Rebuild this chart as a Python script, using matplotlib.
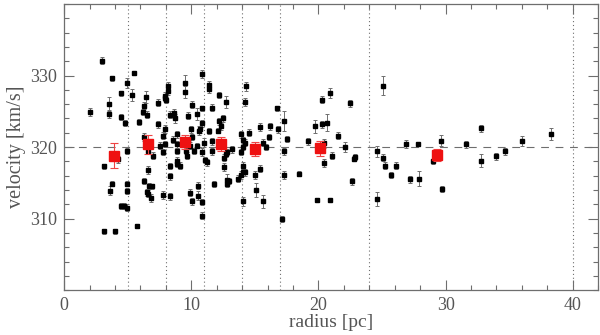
import matplotlib
matplotlib.use("Agg")
import matplotlib.pyplot as plt
from matplotlib.ticker import MultipleLocator

# individual stars: radius [pc], velocity [km/s], velocity error
radius = [
    2.05, 3.0, 3.75, 3.55, 3.5, 4.5, 4.46, 4.8, 4.9, 4.9, 3.1, 3.6, 3.75, 4.46, 4.7,
    4.9, 4.9, 4.9, 3.1, 4.0, 4.2,
    5.3, 5.46, 5.9, 6.25, 6.2, 6.45, 6.55, 6.6, 7.0, 6.25, 7.4, 7.35, 7.5, 7.8, 7.8,
    7.9, 7.95, 5.7, 6.3, 6.5, 6.6, 6.7, 6.9, 6.8, 6.6, 7.75,
    7.9, 7.95, 8.15, 8.15, 8.0, 8.35, 8.6, 8.75, 8.9, 8.55, 8.9, 8.9, 8.9, 9.1, 9.5,
    9.5, 9.7, 10.05, 10.45, 10.0, 10.6, 10.7, 10.05, 9.7, 9.65, 9.6, 9.9, 10.2, 10.45,
    10.85, 8.35, 8.35, 8.35, 8.9, 9.9, 10.05, 10.5, 10.55, 10.85, 10.85, 10.85, 10.85,
    10.85,
    11.0, 11.6, 11.1, 11.2, 11.6, 11.8, 11.4, 11.35, 11.6, 11.35, 12.15, 12.75, 12.15,
    12.5, 12.3, 12.1, 12.55, 12.7, 12.8, 12.6, 12.8, 12.8, 13.0, 13.2, 13.7, 13.9, 13.9,
    13.9,
    14.1, 14.1, 14.25, 14.1, 14.1, 14.25, 14.3, 14.25, 14.5, 14.1, 15.0, 15.1, 15.6,
    15.4, 15.6, 15.9, 16.1, 15.4, 16.2, 16.7, 16.8,
    17.3, 17.3, 17.3, 17.5, 17.1, 18.45, 19.2, 19.7, 20.3, 20.3, 20.7, 20.9, 21.5, 20.4,
    20.4, 21.1, 22.1, 22.5, 22.8, 22.9, 22.6, 19.9, 20.9,
    24.6, 24.6, 25.1, 25.1, 25.2, 25.7, 26.1, 26.9, 27.8, 27.2, 27.9, 29.0, 29.65, 29.7,
    31.6, 32.8, 32.8, 34.0, 34.7, 36.0, 38.3,
]
velocity = [
    324.9, 332.1, 329.6, 326.0, 324.6, 327.5, 324.2, 323.4, 328.9, 319.4, 317.3, 313.9,
    314.9, 311.8, 311.8, 311.5, 314.9, 313.9, 308.2, 308.2, 318.3,
    327.3, 330.4, 323.5, 325.8, 324.9, 327.0, 324.5, 319.5, 318.8, 321.4, 326.2, 323.2,
    320.2, 321.6, 319.3, 320.4, 322.5, 309.0, 315.3, 313.7, 313.5, 314.6, 314.5, 312.9,
    316.8, 313.3,
    327.2, 326.8, 328.5, 327.8, 326.6, 324.5, 324.7, 324.0, 321.8, 321.0, 320.4, 319.5,
    318.1, 317.4, 328.9, 327.7, 324.4, 325.9, 324.6, 322.5, 322.3, 322.5, 321.4, 321.0,
    318.8, 319.5, 320.2, 319.4, 320.2, 319.3, 313.1, 315.9, 317.4, 317.6, 313.6, 312.4,
    314.6, 313.2, 312.3, 310.4, 330.2, 325.4, 323.3,
    320.6, 320.8, 318.2, 317.9, 319.4, 314.8, 328.7, 328.1, 325.5, 322.2, 327.3, 326.3,
    323.6, 324.0, 322.9, 322.3, 318.5, 319.0, 319.3, 317.2, 315.4, 314.9, 315.3, 319.7,
    315.6, 316.1, 319.3, 321.8,
    317.4, 316.5, 316.5, 320.0, 321.0, 320.6, 328.5, 326.3, 322.0, 312.4, 316.1, 314.0,
    312.4, 317.0, 320.6, 320.0, 321.4, 322.8, 322.9, 325.4, 322.5,
    323.6, 319.4, 316.1, 321.1, 309.9, 316.3, 320.8, 322.9, 326.6, 323.2, 323.4, 327.5,
    321.6, 320.5, 317.8, 318.8, 320.0, 326.1, 318.4, 318.6, 315.2, 312.6, 312.6,
    319.4, 312.7, 328.6, 318.5, 317.4, 316.1, 317.4, 320.4, 320.4, 315.5, 315.6, 318.0,
    320.9, 314.1,
    320.4, 322.6, 318.1, 318.7, 319.4, 320.8, 321.8,
]
verr = [
    0.5, 0.5, 0.3, 1.0, 0.6, 0.4, 0.4, 0.4, 0.7, 0.4, 0.3, 0.6, 0.4, 0.4, 0.4,
    0.5, 0.4, 0.4, 0.4, 0.4, 0.5,
    0.8, 0.3, 0.4, 0.5, 0.4, 0.8, 0.5, 0.5, 0.5, 0.5, 0.5, 0.5, 0.5, 0.5, 0.4,
    0.4, 0.6, 0.3, 0.4, 0.5, 0.5, 0.4, 0.4, 0.6, 0.6, 0.5,
    0.5, 0.4, 0.6, 0.5, 0.4, 0.5, 0.6, 0.6, 0.5, 0.5, 0.5, 0.4, 0.5, 0.5, 1.2,
    0.8, 0.5, 0.5, 0.8, 0.5, 0.6, 0.5, 0.4, 0.4, 0.5, 0.4, 0.5, 0.4, 0.4,
    0.5, 0.5, 0.5, 0.4, 0.4, 0.5, 0.5, 0.5, 0.6, 0.4, 0.5, 0.6, 0.3, 0.5,
    0.6, 0.5, 0.4, 0.5, 0.5, 0.4, 0.6, 0.6, 0.5, 0.4, 0.4, 0.8, 0.5,
    0.5, 0.5, 0.4, 0.5, 0.4, 0.4, 0.6, 0.8, 0.5, 0.4, 0.5, 0.5, 0.5, 0.4,
    0.5,
    0.5, 0.5, 0.5, 0.4, 0.4, 0.5, 0.6, 0.5, 0.5, 0.6, 0.5, 1.0, 0.9,
    0.5, 0.5, 0.4, 0.4, 0.5, 0.5, 0.4, 0.5,
    1.4, 0.5, 0.5, 0.4, 0.4, 0.4, 0.5, 0.9, 0.5, 0.5, 1.2, 0.7, 0.5, 0.6,
    0.6, 0.5, 0.7, 0.5, 0.4, 0.4, 0.5, 0.3, 0.2,
    0.8, 1.0, 1.3, 0.5, 0.5, 0.4, 0.5, 0.6, 0.2, 0.5, 1.0, 0.4, 0.8, 0.4,
    0.5, 0.5, 0.9, 0.5, 0.5, 0.7, 0.8,
]

# binned means (red squares)
bin_r = [3.95, 6.6, 9.5, 12.3, 15.0, 20.1, 29.3]
bin_v = [318.8, 320.4, 320.7, 320.4, 319.7, 319.8, 318.9]
bin_err = [1.7, 1.3, 1.0, 1.0, 1.0, 1.0, 0.8]

bin_edges = [5, 8, 11, 14, 17, 24, 40]
v_sys = 320

grey = "#6e6e6e"
plt.rcParams["font.family"] = ["Liberation Serif", "DejaVu Serif"]

fig = plt.figure(figsize=(6, 3.35), dpi=100)
ax = fig.add_axes([0.107, 0.134, 0.89, 0.854])

for e in bin_edges:
    ax.axvline(e, color=grey, lw=0.8, ls=(0, (1, 2.5)), zorder=1)
ax.axhline(v_sys, color=grey, lw=0.8, ls=(0, (7, 6)), zorder=1)

ax.errorbar(radius, velocity, yerr=verr, fmt="s", ms=2.2, color="black",
            ecolor=grey, elinewidth=0.7, capsize=1.5, capthick=0.7, zorder=3)
ax.errorbar(bin_r, bin_v, yerr=bin_err, fmt="s", ms=7, color="#ee1111",
            ecolor="#ee4444", elinewidth=0.8, capsize=3, capthick=0.8, zorder=4)

ax.set_xlim(0, 42)
ax.set_ylim(300, 340)
ax.xaxis.set_major_locator(MultipleLocator(10))
ax.xaxis.set_minor_locator(MultipleLocator(2))
ax.yaxis.set_major_locator(MultipleLocator(10))
ax.yaxis.set_minor_locator(MultipleLocator(2))
ax.set_yticks([310, 320, 330])
ax.tick_params(which="both", direction="in", top=True, right=True,
               color=grey, labelcolor="#555555", labelsize=13)
ax.tick_params(which="major", length=7, width=0.8, pad=5)
ax.tick_params(which="minor", length=3.5, width=0.8)
for s in ax.spines.values():
    s.set_color(grey)
    s.set_linewidth(0.9)

ax.set_xlabel("radius [pc]", color="#555555", fontsize=14, labelpad=0)
ax.set_ylabel("velocity [km/s]", color="#555555", fontsize=14.5, labelpad=3)

fig.savefig("out.png", dpi=100)
